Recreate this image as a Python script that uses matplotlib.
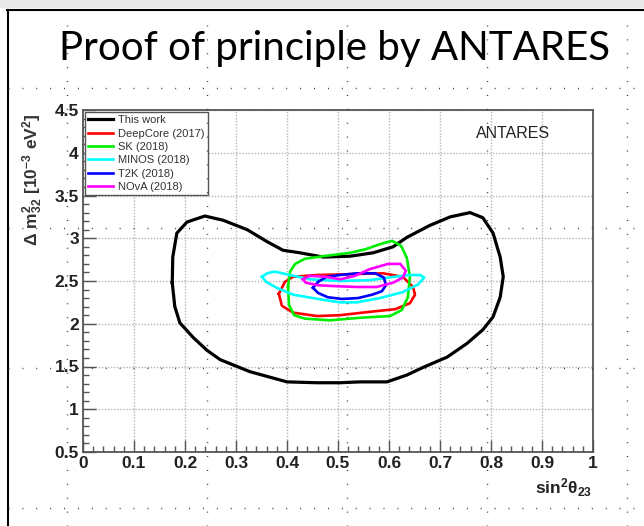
import numpy as np
import matplotlib
matplotlib.use("Agg")
from matplotlib import pyplot as plt
from matplotlib.lines import Line2D
from matplotlib.patches import Rectangle
from matplotlib.ticker import MultipleLocator

# Contour data (sin^2 theta23, dm^2_32 in 1e-3 eV^2)
this_work_x = [0.175, 0.176, 0.184, 0.204, 0.239, 0.275, 0.322, 0.361, 0.392, 0.425,
               0.471, 0.524, 0.569, 0.608, 0.635, 0.680, 0.720, 0.759, 0.784, 0.804,
               0.818, 0.824, 0.818, 0.804, 0.784, 0.753, 0.714, 0.667, 0.635, 0.596,
               0.543, 0.504, 0.459, 0.400, 0.327, 0.269, 0.243, 0.216, 0.190, 0.180]
this_work_y = [2.48, 2.78, 3.06, 3.19, 3.26, 3.21, 3.10, 2.96, 2.86, 2.83,
               2.78, 2.79, 2.83, 2.90, 3.01, 3.15, 3.25, 3.30, 3.24, 3.06,
               2.78, 2.55, 2.31, 2.08, 1.93, 1.77, 1.61, 1.49, 1.40, 1.32,
               1.32, 1.31, 1.31, 1.32, 1.44, 1.58, 1.69, 1.84, 2.01, 2.20]

deepcore_x = [0.384, 0.396, 0.412, 0.459, 0.524, 0.588, 0.627, 0.647, 0.651, 0.641,
              0.612, 0.563, 0.504, 0.459, 0.412, 0.390]
deepcore_y = [2.35, 2.49, 2.55, 2.57, 2.58, 2.59, 2.55, 2.43, 2.34, 2.24,
              2.17, 2.14, 2.10, 2.09, 2.13, 2.21]

sk_x = [0.402, 0.406, 0.416, 0.435, 0.471, 0.524, 0.553, 0.582, 0.606, 0.624,
        0.635, 0.641, 0.637, 0.625, 0.602, 0.543, 0.484, 0.435, 0.414, 0.404]
sk_y = [2.43, 2.61, 2.70, 2.76, 2.79, 2.83, 2.87, 2.93, 2.97, 2.91,
        2.77, 2.55, 2.31, 2.16, 2.09, 2.07, 2.04, 2.06, 2.10, 2.22]

minos_x = [0.351, 0.361, 0.376, 0.406, 0.445, 0.504, 0.563, 0.612, 0.641, 0.661,
           0.669, 0.657, 0.627, 0.582, 0.537, 0.504, 0.471, 0.412, 0.380, 0.359]
minos_y = [2.55, 2.59, 2.61, 2.57, 2.52, 2.50, 2.51, 2.55, 2.57, 2.57,
           2.54, 2.46, 2.37, 2.30, 2.25, 2.25, 2.28, 2.34, 2.42, 2.49]

t2k_x = [0.451, 0.461, 0.478, 0.504, 0.537, 0.573, 0.590, 0.594, 0.586, 0.567,
         0.539, 0.508, 0.480, 0.461]
t2k_y = [2.42, 2.49, 2.55, 2.57, 2.59, 2.59, 2.54, 2.45, 2.38, 2.34,
         2.30, 2.29, 2.31, 2.36]

nova_x = [0.431, 0.445, 0.475, 0.504, 0.533, 0.563, 0.598, 0.622, 0.633, 0.627,
          0.608, 0.576, 0.537, 0.494, 0.461, 0.437]
nova_y = [2.52, 2.56, 2.55, 2.52, 2.56, 2.64, 2.70, 2.70, 2.62, 2.54,
          2.48, 2.43, 2.43, 2.44, 2.45, 2.48]

labels = ["This work", "DeepCore (2017)", "SK (2018)", "MINOS (2018)", "T2K (2018)", "NOvA (2018)"]
colors = ["#000000", "#ff0000", "#00ee00", "#00ffff", "#0000ff", "#ff00ff"]
xs = [this_work_x, deepcore_x, sk_x, minos_x, t2k_x, nova_x]
ys = [this_work_y, deepcore_y, sk_y, minos_y, t2k_y, nova_y]

W, H = 644, 526
fig = plt.figure(figsize=(W / 100, H / 100), dpi=100)
fig.patch.set_facecolor("white")

# slide decoration: grey band, border lines
fig.add_artist(Rectangle((0, 1 - 8 / H), 1, 8 / H, transform=fig.transFigure,
                         facecolor="#e9e9e9", edgecolor="none"))
fig.add_artist(Line2D([7 / W, 1], [1 - 10 / H, 1 - 10 / H], transform=fig.transFigure,
                      color="black", lw=1.5))
fig.add_artist(Line2D([8 / W, 8 / W], [0, 1 - 10 / H], transform=fig.transFigure,
                      color="black", lw=1.5))

fig.text(335 / W, 1 - 60 / H, "Proof of principle by ANTARES", family="Lato",
         fontsize=29, ha="center", va="baseline", color="black")

ax = fig.add_axes([83 / W, 1 - 452 / H, 510 / W, 342 / H])
for x, y, c, lab in zip(xs, ys, colors, labels):
    lw = 2.3 if c == "#000000" else 1.9
    ax.plot(x + x[:1], y + y[:1], color=c, lw=lw, label=lab, solid_joinstyle="round")

ax.set_xlim(0, 1)
ax.set_ylim(0.5, 4.5)
ax.xaxis.set_minor_locator(MultipleLocator(0.02))
ax.yaxis.set_minor_locator(MultipleLocator(0.1))
ax.set_xticks(np.arange(0, 1.01, 0.1))
ax.set_xticklabels(["0", "0.1", "0.2", "0.3", "0.4", "0.5", "0.6", "0.7", "0.8", "0.9", "1"])
ax.set_yticks(np.arange(0.5, 4.51, 0.5))
ax.set_yticklabels(["0.5", "1", "1.5", "2", "2.5", "3", "3.5", "4", "4.5"])
for t in ax.get_xticklabels() + ax.get_yticklabels():
    t.set_family("Liberation Sans")
    t.set_fontweight("bold")
    t.set_fontsize(12.5)
    t.set_color("#222222")
ax.tick_params(which="both", direction="in", top=False, right=False, color="#555555", width=1)
ax.tick_params(which="major", length=9, pad=3)
ax.tick_params(which="minor", length=4.5)
ax.grid(True, which="major", color="#b5b5b5", linestyle=(0, (1, 1.2)), lw=1.0)
for s in ax.spines.values():
    s.set_color("#555555")
    s.set_linewidth(1.3)

leg = ax.legend(loc="upper left", bbox_to_anchor=(0.004, 0.994), borderaxespad=0,
                prop={"family": "Liberation Sans", "size": 8}, fancybox=False,
                framealpha=1, edgecolor="#555555", handlelength=2.2, labelspacing=0.3,
                handletextpad=0.5, borderpad=0.3)
leg.get_frame().set_linewidth(1.0)
for t in leg.get_texts():
    t.set_color("#333333")

ax.text(0.843, 4.23, "ANTARES", family="Liberation Sans", fontsize=11.5,
        ha="center", va="center", color="#222222")

plt.rcParams["mathtext.fontset"] = "custom"
plt.rcParams["mathtext.rm"] = "Liberation Sans:bold"
plt.rcParams["mathtext.it"] = "Liberation Sans:bold"
plt.rcParams["mathtext.bf"] = "Liberation Sans:bold"
fig.text(33 / W, 1 - 180 / H, r"$\mathrm{\Delta\ m^{2}_{32}\ [10^{-3}\ eV^{2}]}$",
         rotation=90, ha="center", va="center", fontsize=12.5, color="#333333")
fig.text(592 / W, 1 - 488 / H, r"$\mathrm{sin^{2}\theta_{23}}$", ha="right", va="center",
         fontsize=12.5, color="#222222")

# slide grid guides (dotted)
for gy in [88, 228, 368, 508]:
    fig.add_artist(Line2D([0.012, 1], [1 - gy / H, 1 - gy / H], transform=fig.transFigure,
                          color="#333333", lw=1.0, linestyle=(0, (0.7, 9.3)), zorder=10))
for gx in [67, 207, 347, 487, 627]:
    fig.add_artist(Line2D([gx / W, gx / W], [0, 1 - 14 / H], transform=fig.transFigure,
                          color="#333333", lw=1.0, linestyle=(0, (0.7, 9.3)), zorder=10))

fig.savefig("out.png", dpi=100)
